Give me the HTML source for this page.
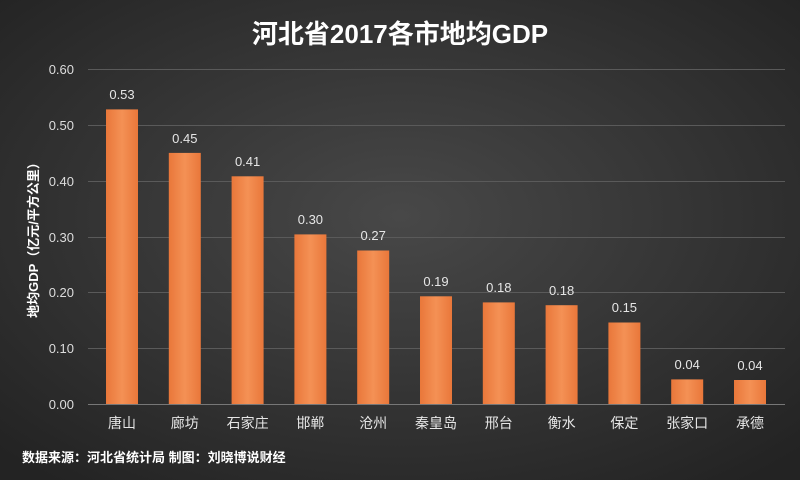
<!DOCTYPE html>
<html><head><meta charset="utf-8"><style>
body{margin:0;width:800px;height:480px;overflow:hidden;}
svg{display:block;}
text{font-family:"Liberation Sans","Noto Sans CJK SC",sans-serif;}
</style></head><body>
<svg width="800" height="480" viewBox="0 0 800 480">
<defs>
<radialGradient id="bg" cx="50%" cy="45%" r="70%">
<stop offset="0" stop-color="#484848"/><stop offset="1" stop-color="#232323"/>
</radialGradient>
<linearGradient id="bar" x1="0" x2="1" y1="0" y2="0">
<stop offset="0" stop-color="#e9773a"/><stop offset="0.5" stop-color="#f49155"/><stop offset="1" stop-color="#e9773a"/>
</linearGradient>
</defs>
<rect width="800" height="480" fill="url(#bg)"/>
<text x="400" y="43" text-anchor="middle" fill="#fff" font-size="26" font-weight="bold">河北省2017各市地均GDP</text>
<g stroke="#5a5a5a" stroke-width="1">
<line x1="88" x2="785" y1="69.5" y2="69.5"/>
<line x1="88" x2="785" y1="125.5" y2="125.5"/>
<line x1="88" x2="785" y1="181.5" y2="181.5"/>
<line x1="88" x2="785" y1="237.5" y2="237.5"/>
<line x1="88" x2="785" y1="292.5" y2="292.5"/>
<line x1="88" x2="785" y1="348.5" y2="348.5"/>
<line x1="88" x2="785" y1="404.5" y2="404.5" stroke="#777"/>
</g>
<g fill="#ddd" font-size="13" text-anchor="end">
<text x="74" y="74">0.60</text><text x="74" y="130">0.50</text><text x="74" y="186">0.40</text>
<text x="74" y="242">0.30</text><text x="74" y="297">0.20</text><text x="74" y="353">0.10</text><text x="74" y="409">0.00</text>
</g>
<text transform="translate(38,237) rotate(-90)" text-anchor="middle" fill="#fff" font-size="13" font-weight="bold">地均GDP（亿元/平方公里）</text>
<g fill="url(#bar)">
<rect x="106" y="109.4" width="32" height="294.6"/>
<rect x="168.8" y="152.9" width="32" height="251.1"/>
<rect x="231.6" y="176.3" width="32" height="227.7"/>
<rect x="294.4" y="234.4" width="32" height="169.6"/>
<rect x="357.2" y="250.5" width="32" height="153.5"/>
<rect x="420" y="296.3" width="32" height="107.7"/>
<rect x="482.8" y="302.4" width="32" height="101.6"/>
<rect x="545.6" y="305.2" width="32" height="98.8"/>
<rect x="608.4" y="322.5" width="32" height="81.5"/>
<rect x="671.2" y="379.4" width="32" height="24.6"/>
<rect x="734" y="380" width="32" height="24"/>
</g>
<g fill="#e6e6e6" font-size="13" text-anchor="middle">
<text x="122" y="99">0.53</text>
<text x="184.8" y="143">0.45</text>
<text x="247.6" y="166">0.41</text>
<text x="310.4" y="224">0.30</text>
<text x="373.2" y="240">0.27</text>
<text x="436" y="286">0.19</text>
<text x="498.8" y="292">0.18</text>
<text x="561.6" y="295">0.18</text>
<text x="624.4" y="312">0.15</text>
<text x="687.2" y="369">0.04</text>
<text x="750" y="370">0.04</text>
</g>
<g fill="#e6e6e6" font-size="14" text-anchor="middle">
<text x="122" y="428">唐山</text>
<text x="184.8" y="428">廊坊</text>
<text x="247.6" y="428">石家庄</text>
<text x="310.4" y="428">邯郸</text>
<text x="373.2" y="428">沧州</text>
<text x="436" y="428">秦皇岛</text>
<text x="498.8" y="428">邢台</text>
<text x="561.6" y="428">衡水</text>
<text x="624.4" y="428">保定</text>
<text x="687.2" y="428">张家口</text>
<text x="750" y="428">承德</text>
</g>
<text x="22" y="462" fill="#fff" font-size="13" font-weight="bold">数据来源：河北省统计局  制图：刘晓博说财经</text>
</svg>
</body></html>
